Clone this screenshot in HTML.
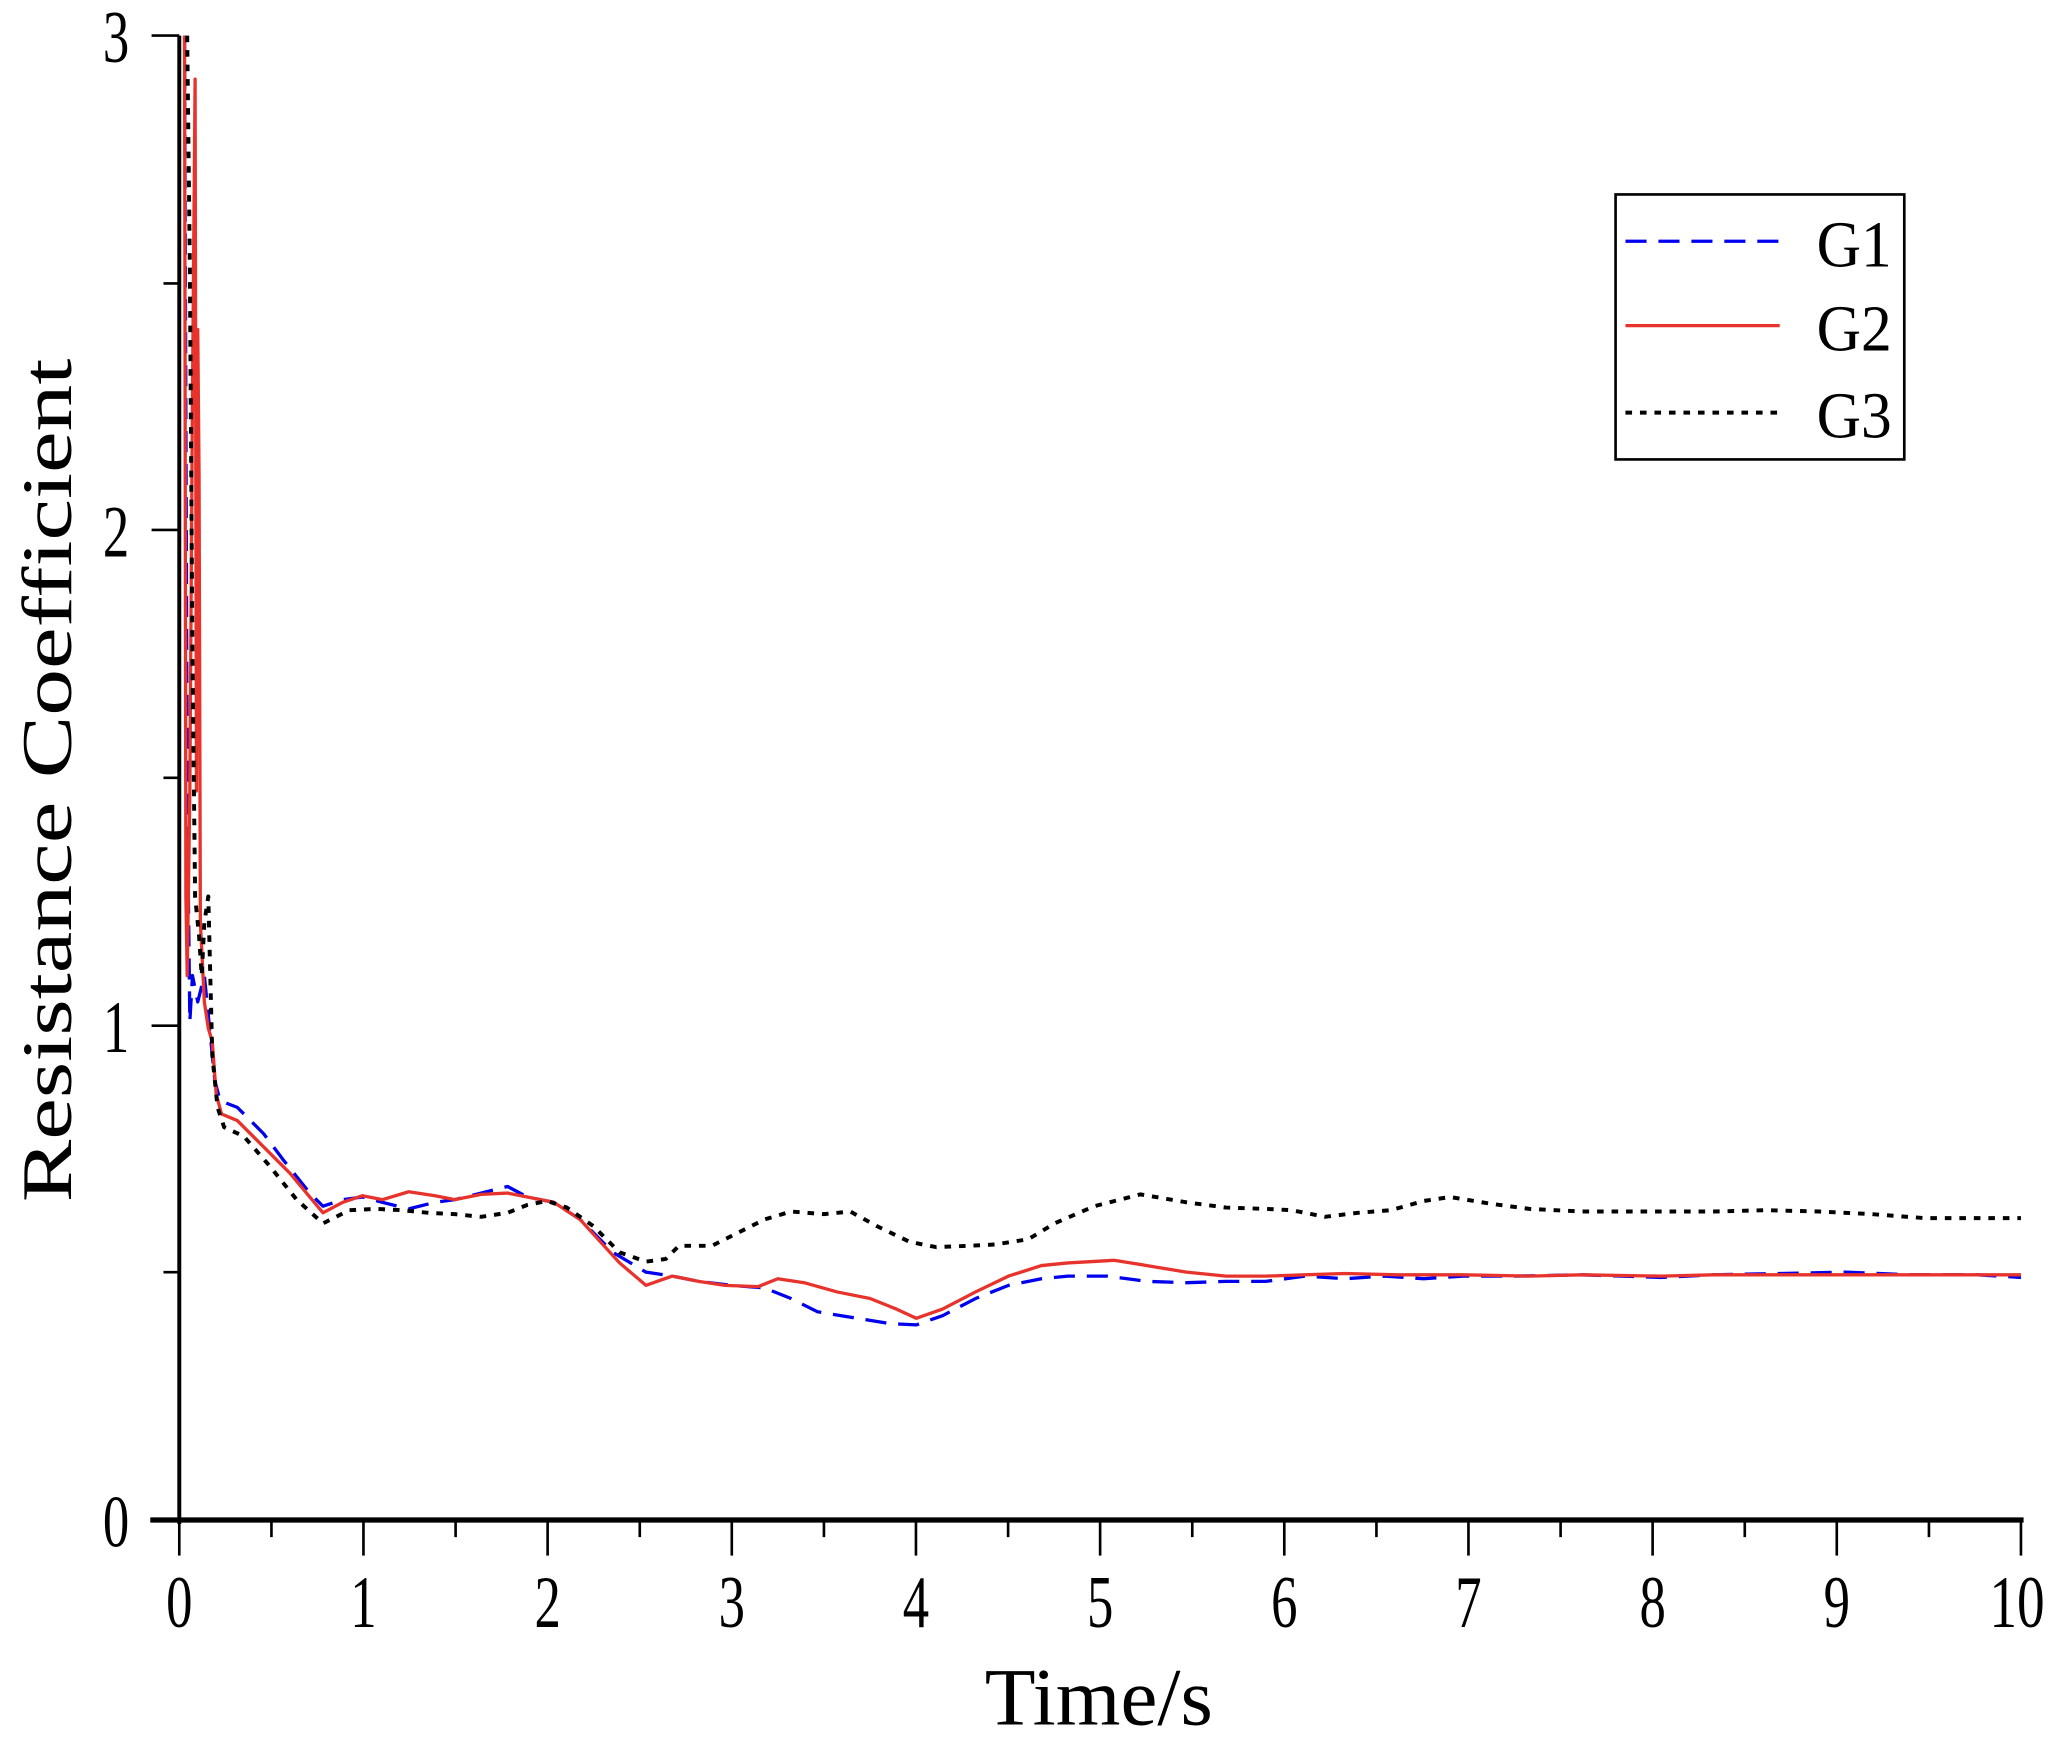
<!DOCTYPE html>
<html><head><meta charset="utf-8"><style>
html,body{margin:0;padding:0;background:#fff;}
svg{display:block;}
text{font-family:"Liberation Serif","DejaVu Serif",serif;fill:#000;}
</style></head><body>
<svg width="2067" height="1749" viewBox="0 0 2067 1749" xmlns="http://www.w3.org/2000/svg">
<g transform="scale(1.3183)">
<!-- axes -->
<line x1="136" y1="27" x2="136" y2="1156" stroke="#000" stroke-width="3"/>
<line x1="114" y1="1153" x2="1535" y2="1153" stroke="#000" stroke-width="4"/>
<g stroke="#000" stroke-width="2">
<line x1="115" y1="27" x2="136" y2="27"/><line x1="115" y1="402" x2="136" y2="402"/><line x1="115" y1="778" x2="136" y2="778"/>
<line x1="124" y1="215" x2="136" y2="215"/><line x1="124" y1="590" x2="136" y2="590"/><line x1="124" y1="965" x2="136" y2="965"/>
<line x1="136" y1="1153" x2="136" y2="1180"/><line x1="275.7" y1="1153" x2="275.7" y2="1180"/><line x1="415.4" y1="1153" x2="415.4" y2="1180"/><line x1="555.1" y1="1153" x2="555.1" y2="1180"/><line x1="694.8" y1="1153" x2="694.8" y2="1180"/><line x1="834.5" y1="1153" x2="834.5" y2="1180"/><line x1="974.2" y1="1153" x2="974.2" y2="1180"/><line x1="1113.9" y1="1153" x2="1113.9" y2="1180"/><line x1="1253.6" y1="1153" x2="1253.6" y2="1180"/><line x1="1393.3" y1="1153" x2="1393.3" y2="1180"/><line x1="1533" y1="1153" x2="1533" y2="1180"/>
<line x1="205.9" y1="1153" x2="205.9" y2="1166"/><line x1="345.6" y1="1153" x2="345.6" y2="1166"/><line x1="485.3" y1="1153" x2="485.3" y2="1166"/><line x1="625" y1="1153" x2="625" y2="1166"/><line x1="764.7" y1="1153" x2="764.7" y2="1166"/><line x1="904.4" y1="1153" x2="904.4" y2="1166"/><line x1="1044.1" y1="1153" x2="1044.1" y2="1166"/><line x1="1183.8" y1="1153" x2="1183.8" y2="1166"/><line x1="1323.5" y1="1153" x2="1323.5" y2="1166"/><line x1="1463.2" y1="1153" x2="1463.2" y2="1166"/>
</g>
<g font-size="56" text-anchor="middle">
<text x="88" y="47" textLength="20" lengthAdjust="spacingAndGlyphs">3</text>
<text x="88" y="422" textLength="20" lengthAdjust="spacingAndGlyphs">2</text>
<text x="88" y="798" textLength="20" lengthAdjust="spacingAndGlyphs">1</text>
<text x="88" y="1173" textLength="20" lengthAdjust="spacingAndGlyphs">0</text>
</g>
<g font-size="56" text-anchor="middle">
<text x="136" y="1234" textLength="20" lengthAdjust="spacingAndGlyphs">0</text><text x="275.7" y="1234" textLength="20" lengthAdjust="spacingAndGlyphs">1</text><text x="415.4" y="1234" textLength="20" lengthAdjust="spacingAndGlyphs">2</text><text x="555.1" y="1234" textLength="20" lengthAdjust="spacingAndGlyphs">3</text><text x="694.8" y="1234" textLength="20" lengthAdjust="spacingAndGlyphs">4</text><text x="834.5" y="1234" textLength="20" lengthAdjust="spacingAndGlyphs">5</text><text x="974.2" y="1234" textLength="20" lengthAdjust="spacingAndGlyphs">6</text><text x="1113.9" y="1234" textLength="20" lengthAdjust="spacingAndGlyphs">7</text><text x="1253.6" y="1234" textLength="20" lengthAdjust="spacingAndGlyphs">8</text><text x="1393.3" y="1234" textLength="20" lengthAdjust="spacingAndGlyphs">9</text><text x="1530" y="1234" textLength="42" lengthAdjust="spacingAndGlyphs">10</text>
</g>
<text x="747" y="1308" font-size="62" textLength="173" lengthAdjust="spacingAndGlyphs">Time/s</text>
<text transform="translate(54,912) rotate(-90)" font-size="54" textLength="640" lengthAdjust="spacingAndGlyphs">Resistance Coefficient</text>
<!-- series -->
<g fill="none" stroke-width="2.5" stroke-linejoin="round">
<polyline stroke="#0000ee" stroke-dasharray="16,9" points="140,27 142,600 144,775 146,740 150,760 155,740 160,790 163,820 167,835 180,840 200,860 215,880 235,905 245,915 260,910 275,908 290,912 310,917 330,912 345,910 365,905 385,900 400,908 420,912 440,925 465,950 490,965 510,968 530,972 555,975 580,977 600,985 620,995 650,1000 675,1004 695,1005 715,998 740,985 765,975 790,970 810,968 840,968 870,972 900,973 930,972 960,972 990,968 1020,970 1050,968 1080,970 1110,968 1150,968 1200,967 1260,969 1300,967 1350,966 1400,965 1450,967 1500,967 1533,969"/>
<polyline stroke="#e8332c" points="140,27 141,680 142,740 144,600 146,300 148,60 149,600 150,250 151,360 152,700 155,760 158,780 161,790 164,830 168,845 180,850 200,870 220,890 245,920 260,912 275,907 290,910 310,904 330,907 345,910 365,906 385,905 400,908 420,912 440,925 470,958 490,975 510,968 530,972 550,975 575,976 590,970 610,973 635,980 660,985 680,993 695,1000 715,993 740,980 765,968 790,960 810,958 845,956 870,960 900,965 930,968 960,968 990,967 1020,966 1060,967 1110,967 1160,968 1200,967 1260,968 1300,967 1350,967 1400,967 1450,967 1500,967 1533,967"/>
<polyline stroke="#000" stroke-dasharray="5,6" stroke-width="3" points="142,27 144,200 146,500 148,680 151,710 153,740 155,700 158,680 161,800 165,840 170,855 185,862 205,885 225,910 245,928 265,918 285,917 305,918 325,920 345,921 365,923 385,920 400,914 415,911 430,916 450,930 470,950 490,957 505,955 515,945 540,945 560,935 580,925 600,919 625,921 645,919 665,930 690,942 710,946 735,945 755,944 780,940 800,928 830,915 865,906 900,912 930,916 960,917 980,918 1005,923 1030,920 1055,918 1080,911 1100,908 1130,913 1160,917 1200,919 1260,919 1300,919 1340,918 1380,919 1420,921 1460,924 1500,924 1533,924"/>
</g>
<!-- legend -->
<rect x="1225.5" y="147.5" width="219" height="201" fill="#fff" stroke="#000" stroke-width="2"/>
<line x1="1233" y1="183" x2="1350" y2="183" stroke="#0000ee" stroke-width="2.5" stroke-dasharray="16,9"/>
<line x1="1233" y1="247" x2="1350" y2="247" stroke="#e8332c" stroke-width="2.5"/>
<line x1="1233" y1="313" x2="1350" y2="313" stroke="#000" stroke-width="3" stroke-dasharray="5,6"/>
<g font-size="50"><text x="1378" y="202" textLength="57" lengthAdjust="spacingAndGlyphs">G1</text><text x="1378" y="266" textLength="57" lengthAdjust="spacingAndGlyphs">G2</text><text x="1378" y="332" textLength="57" lengthAdjust="spacingAndGlyphs">G3</text></g>
</g>
</svg>
</body></html>
